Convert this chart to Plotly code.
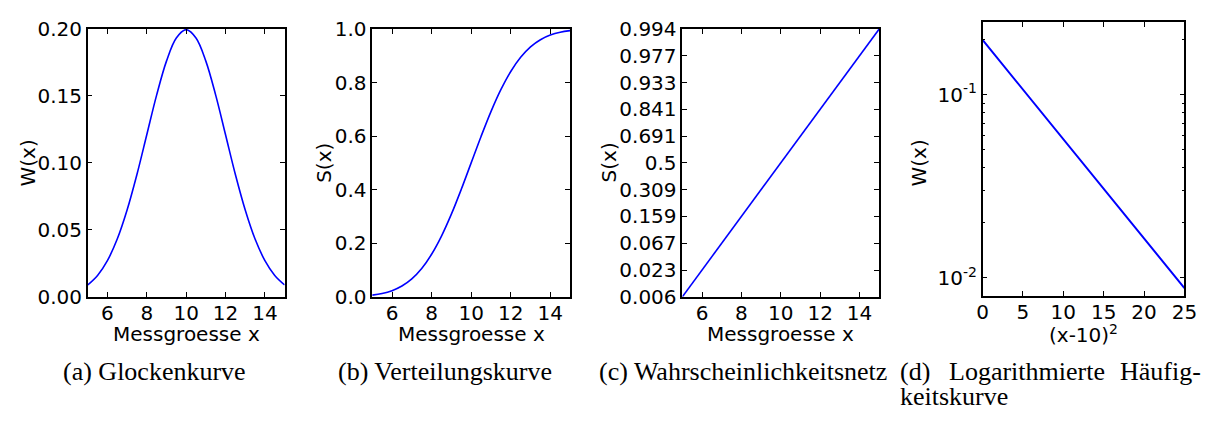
import plotly.graph_objects as go
from statistics import NormalDist

# ---------------- data ----------------
x_vals = [5.0, 5.5, 6.0, 6.5, 7.0, 7.5, 8.0, 8.5, 9.0, 9.5, 10.0,
          10.5, 11.0, 11.5, 12.0, 12.5, 13.0, 13.5, 14.0, 14.5, 15.0]
w_vals = [0.0088, 0.0159, 0.0270, 0.0431, 0.0648, 0.0913, 0.1210, 0.1506, 0.1760, 0.1933, 0.1995,
          0.1933, 0.1760, 0.1506, 0.1210, 0.0913, 0.0648, 0.0431, 0.0270, 0.0159, 0.0088]
s_vals = [0.0062, 0.0122, 0.0228, 0.0401, 0.0668, 0.1056, 0.1587, 0.2266, 0.3085, 0.4013, 0.5000,
          0.5987, 0.6915, 0.7734, 0.8413, 0.8944, 0.9332, 0.9599, 0.9772, 0.9878, 0.9938]

# probability-net tick probabilities and their labels
net_tick_probs = [0.00621, 0.02275, 0.06681, 0.15866, 0.30854, 0.5,
                  0.69146, 0.84134, 0.93319, 0.97725, 0.99379]
net_tick_labels = ["0.006", "0.023", "0.067", "0.159", "0.309", "0.5",
                   "0.691", "0.841", "0.933", "0.977", "0.994"]

x_ticks = [6, 8, 10, 12, 14]
w_ticks = [0.00, 0.05, 0.10, 0.15, 0.20]
w_tick_labels = ["0.00", "0.05", "0.10", "0.15", "0.20"]
s_ticks = [0.0, 0.2, 0.4, 0.6, 0.8, 1.0]
s_tick_labels = ["0.0", "0.2", "0.4", "0.6", "0.8", "1.0"]
u_ticks = [0, 5, 10, 15, 20, 25]
log_major = [0.01, 0.1]
log_major_labels = ["10<sup>-2</sup>", "10<sup>-1</sup>"]
log_minor = [0.02, 0.03, 0.04, 0.05, 0.06, 0.07, 0.08, 0.09, 0.2]

captions = ["(a) Glockenkurve", "(b) Verteilungskurve", "(c) Wahrscheinlichkeitsnetz"]

# ---------------- derived ----------------
nd = NormalDist()
probit = [nd.inv_cdf(s) for s in s_vals]
net_tickvals = [nd.inv_cdf(p) for p in net_tick_probs]
u_vals = [(x - 10) ** 2 for x in x_vals]

W, H = 1224, 421
BLUE = "#0000ff"
FONT = "DejaVu Sans"
SERIF = "Liberation Serif"
TF = 20
CF = 26


def px(xp):
    return xp / W


def py(yp):
    return 1 - yp / H


fig = go.Figure()
fig.add_trace(go.Scatter(x=x_vals, y=w_vals, mode="lines", line=dict(color=BLUE, width=1.6, shape="spline"),
                         xaxis="x", yaxis="y", showlegend=False))
fig.add_trace(go.Scatter(x=x_vals, y=s_vals, mode="lines", line=dict(color=BLUE, width=1.6, shape="spline"),
                         xaxis="x2", yaxis="y2", showlegend=False))
fig.add_trace(go.Scatter(x=x_vals, y=probit, mode="lines", line=dict(color=BLUE, width=1.6),
                         xaxis="x3", yaxis="y3", showlegend=False))
fig.add_trace(go.Scatter(x=u_vals, y=w_vals, mode="lines", line=dict(color=BLUE, width=2),
                         xaxis="x4", yaxis="y4", showlegend=False))

common = dict(showgrid=False, zeroline=False, showline=True, linecolor="black", linewidth=1.5,
              mirror="allticks", ticks="inside", ticklen=5, tickwidth=1, tickcolor="black",
              tickfont=dict(family=FONT, size=TF, color="black"))
xcommon = dict(common, ticklabelstandoff=-3)

dom_x = [[px(83), px(283)], [px(372), px(573)], [px(687), px(887)], [px(992), px(1197)]]
dom_y = [[py(302), py(18)], [py(302), py(18)], [py(302), py(18)], [py(301), py(11)]]

fig.update_layout(
    width=W, height=H, margin=dict(l=0, r=0, t=0, b=0),
    plot_bgcolor="white", paper_bgcolor="white", hovermode=False,
    xaxis=dict(domain=dom_x[0], range=[5, 15], tickvals=x_ticks, anchor="y", **xcommon),
    yaxis=dict(domain=dom_y[0], range=[0, 0.2], tickvals=w_ticks, ticktext=w_tick_labels, anchor="x", **common),
    xaxis2=dict(domain=dom_x[1], range=[5, 15], tickvals=x_ticks, anchor="y2", **xcommon),
    yaxis2=dict(domain=dom_y[1], range=[0, 1], tickvals=s_ticks, ticktext=s_tick_labels, anchor="x2", **common),
    xaxis3=dict(domain=dom_x[2], range=[5, 15], tickvals=x_ticks, anchor="y3", **xcommon),
    yaxis3=dict(domain=dom_y[2], range=[net_tickvals[0], net_tickvals[-1]], tickvals=net_tickvals,
                ticktext=net_tick_labels, anchor="x3", **common),
    xaxis4=dict(domain=dom_x[3], range=[0, 25], tickvals=u_ticks, anchor="y4", **xcommon),
    yaxis4=dict(domain=dom_y[3], type="log", range=[-2.098, -0.604], tickvals=log_major,
                ticktext=log_major_labels, anchor="x4",
                minor=dict(tickvals=log_minor, ticks="inside", ticklen=3, tickcolor="black", tickwidth=1),
                **common),
)

ann = []
# y-axis titles
for xc, txt in [(22, "W(x)"), (323, "S(x)"), (612, "S(x)"), (927, "W(x)")]:
    ann.append(dict(x=px(xc), y=py(160), xref="paper", yref="paper", text=txt, textangle=-90,
                    showarrow=False, font=dict(family=FONT, size=TF, color="black"),
                    xanchor="center", yanchor="middle"))
# x-axis titles
for i, txt in enumerate(["Messgroesse x"] * 3):
    xc = (dom_x[i][0] + dom_x[i][1]) / 2
    ann.append(dict(x=xc, y=py(341), xref="paper", yref="paper", text=txt, showarrow=False,
                    font=dict(family=FONT, size=TF, color="black"), xanchor="center", yanchor="middle"))
ann.append(dict(x=(dom_x[3][0] + dom_x[3][1]) / 2, y=py(341), xref="paper", yref="paper",
                text="(x-10)<sup>2</sup>", showarrow=False,
                font=dict(family=FONT, size=TF, color="black"), xanchor="center", yanchor="middle"))
# captions
for xl, txt in zip([56, 335, 600], captions):
    ann.append(dict(x=px(xl), y=py(381), xref="paper", yref="paper", text=txt, showarrow=False,
                    font=dict(family=SERIF, size=CF, color="black"), xanchor="left", yanchor="middle"))
for xl, txt, anc in [(906, "(d)", "left"), (956, "Logarithmierte", "left"), (1216, "Häufig-", "right")]:
    ann.append(dict(x=px(xl), y=py(381), xref="paper", yref="paper", text=txt, showarrow=False,
                    font=dict(family=SERIF, size=CF, color="black"), xanchor=anc, yanchor="middle"))
ann.append(dict(x=px(906), y=py(408), xref="paper", yref="paper", text="keitskurve", showarrow=False,
                font=dict(family=SERIF, size=CF, color="black"), xanchor="left", yanchor="middle"))
fig.update_layout(annotations=ann)

fig.write_html("out.html", config={"displayModeBar": False},
               post_script="document.body.style.margin='0px';")
